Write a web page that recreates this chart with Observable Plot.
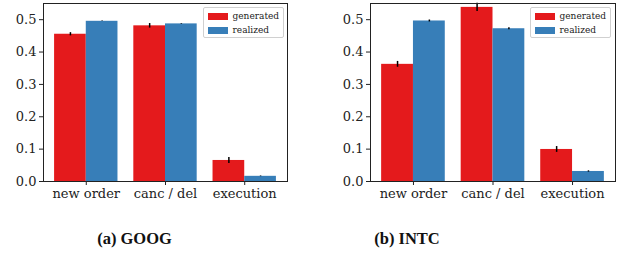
<!DOCTYPE html>
<html>
<head>
<meta charset="utf-8">
<script src="https://cdn.jsdelivr.net/npm/d3@7"></script>
<script src="https://cdn.jsdelivr.net/npm/@observablehq/plot@0.6"></script>
<style>
  html, body { margin: 0; padding: 0; background: #fff; }
  #wrap { position: relative; width: 626px; height: 259px; overflow: hidden; }
  .panel { position: absolute; top: 0; }
  .panel svg, .panel svg text { font-family: "DejaVu Serif", serif !important; }
  .legend { position: absolute; top: 7px; width: 79px; height: 29px; border: 1px solid #d0d0d0; border-radius: 2px; background: rgba(255,255,255,0.85); font-family: "DejaVu Serif", serif; font-size: 9px; color: #222; }
  .legend .row { position: absolute; left: 4px; height: 7px; width: 80px; }
  .legend .sw { position: absolute; left: 0; top: 0; width: 20px; height: 7px; }
  .legend .lbl { position: absolute; left: 25px; top: -3px; line-height: 12px; white-space: nowrap; }
  .cap { position: absolute; top: 229px; width: 160px; text-align: center; font-family: "Liberation Serif", serif; font-weight: bold; font-size: 16.5px; color: #111; }
</style>
</head>
<body>
<div id="wrap"></div>
<script>
const categories = ["new order", "canc / del", "execution"];
const series = ["generated", "realized"];
const colors = ["#e41a1c", "#377eb8"];
const yTicks = [0, 0.1, 0.2, 0.3, 0.4, 0.5];

const googGenerated = [0.455, 0.481, 0.065];
const googRealized  = [0.495, 0.487, 0.016];
const googGenErr    = [0.005, 0.007, 0.009];
const googRealErr   = [0.001, 0.001, 0.001];

const intcGenerated = [0.362, 0.538, 0.099];
const intcRealized  = [0.496, 0.472, 0.031];
const intcGenErr    = [0.009, 0.013, 0.009];
const intcRealErr   = [0.003, 0.003, 0.002];

const captions = ["(a) GOOG", "(b) INTC"];

function rowsFor(gen, real, genErr, realErr) {
  const rows = [];
  categories.forEach((c, i) => {
    rows.push({cat: c, i, series: series[0], s: 0, value: gen[i], err: genErr[i]});
    rows.push({cat: c, i, series: series[1], s: 1, value: real[i], err: realErr[i]});
  });
  return rows;
}

const barW = 0.4;
function chart(rows, marginLeft, marginRight) {
  return Plot.plot({
    width: 313,
    height: 205,
    marginLeft, marginRight,
    marginTop: 3,
    marginBottom: 24,
    style: {fontFamily: "'DejaVu Serif', serif", fontSize: "13px", color: "#222", background: "transparent"},
    x: {domain: [-0.54, 2.54], label: null},
    y: {domain: [0, 0.55], label: null},
    color: {domain: series, range: colors},
    marks: [
      Plot.rect(rows, {
        x1: d => d.i + (d.s === 0 ? -barW : 0),
        x2: d => d.i + (d.s === 0 ? 0 : barW),
        y1: 0,
        y2: "value",
        fill: "series"
      }),
      Plot.ruleX(rows, {
        x: d => d.i + (d.s === 0 ? -barW / 2 : barW / 2),
        y1: d => d.value - d.err,
        y2: d => d.value + d.err,
        stroke: "#000",
        strokeWidth: 1.5
      }),
      Plot.frame({stroke: "#222", strokeWidth: 1}),
      Plot.axisX({ticks: [0, 1, 2], tickFormat: i => categories[i], tickSize: 4, tickPadding: 3, stroke: "#222", label: null}),
      Plot.axisY({ticks: yTicks, tickFormat: ".1f", tickSize: 4, tickPadding: 3, stroke: "#222", label: null})
    ]
  });
}

const wrap = document.getElementById("wrap");
const panels = [
  {rows: rowsFor(googGenerated, googRealized, googGenErr, googRealErr), ml: 43, mr: 26, left: 0, legLeft: 202.5, capCenter: 134.5},
  {rows: rowsFor(intcGenerated, intcRealized, intcGenErr, intcRealErr), ml: 57, mr: 11, left: 313, legLeft: 529.5, capCenter: 407}
];
panels.forEach((p, k) => {
  const div = document.createElement("div");
  div.className = "panel";
  div.style.left = p.left + "px";
  div.appendChild(chart(p.rows, p.ml, p.mr));
  wrap.appendChild(div);

  const leg = document.createElement("div");
  leg.className = "legend";
  leg.style.left = p.legLeft + "px";
  series.forEach((s, j) => {
    const row = document.createElement("div");
    row.className = "row";
    row.style.top = (5 + j * 13.5) + "px";
    const sw = document.createElement("div");
    sw.className = "sw";
    sw.style.background = colors[j];
    const lbl = document.createElement("div");
    lbl.className = "lbl";
    lbl.textContent = s;
    row.appendChild(sw);
    row.appendChild(lbl);
    leg.appendChild(row);
  });
  wrap.appendChild(leg);

  const cap = document.createElement("div");
  cap.className = "cap";
  cap.style.left = (p.capCenter - 80) + "px";
  cap.textContent = captions[k];
  wrap.appendChild(cap);
});
</script>
</body>
</html>
